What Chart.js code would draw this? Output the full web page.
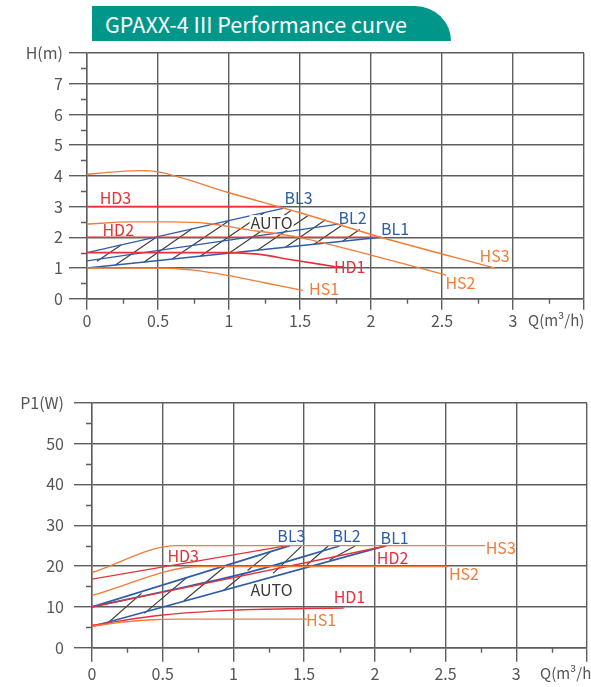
<!DOCTYPE html>
<html>
<head>
<meta charset="utf-8">
<script src="https://cdn.jsdelivr.net/npm/chart.js@4.4.0/dist/chart.umd.min.js"></script>
<style>
  body { margin: 0; width: 591px; height: 687px; background: #fff; position: relative; overflow: hidden; font-family: "Noto Sans CJK SC", sans-serif; }
  .title { position: absolute; left: 92px; top: 6px; width: 359px; height: 35px; background: #00978a; border-top-right-radius: 36px 35px;
           color: #fff; font-size: 21.5px; line-height: 35px; box-sizing: border-box; padding-left: 13px; }
  canvas { position: absolute; left: 0; }
  #head { top: 0; }
  #power { top: 350px; }
</style>
</head>
<body>
<div class="title">GPAXX-4 III Performance curve</div>
<canvas id="head" width="591" height="340"></canvas>
<canvas id="power" width="591" height="337"></canvas>
<script>
const FONT = '"Noto Sans CJK SC", "Noto Sans", sans-serif';
const ORANGE = '#f27c38', RED = '#e8303b', BLUE = '#2d5ca8', HATCH = '#404040', GRID = '#5e5e5e', TEXT = '#555';

// ---- H(m) / Q curves
const headHS3q = [0, 0.2, 0.38, 0.5, 1.0, 1.5, 2.07, 2.87];
const headHS3h = [4.05, 4.13, 4.17, 4.13, 3.45, 2.8, 2.0, 1.0];
const headHS2q = [0, 0.3, 0.6, 0.85, 1.1, 1.5, 2.0, 2.53];
const headHS2h = [2.43, 2.5, 2.5, 2.45, 2.27, 1.99, 1.42, 0.77];
const headHS1q = [0, 0.5, 0.75, 1.0, 1.25, 1.52];
const headHS1h = [1.0, 1.0, 0.93, 0.75, 0.52, 0.27];
const headHD3q = [0, 1.37];
const headHD3h = [3, 3];
const headHD2q = [0, 2.07];
const headHD2h = [2, 2];
const headHD1q = [0, 1.0, 1.2, 1.44, 1.75];
const headHD1h = [1.5, 1.5, 1.45, 1.27, 1.04];
const headBL3q = [0, 1.38];
const headBL3h = [1.5, 2.94];
const headBL2q = [0, 1.77];
const headBL2h = [1.23, 2.43];
const headBL1q = [0, 2.07];
const headBL1h = [1.0, 2.0];
// AUTO hatch segments (start q,h -> end q,h)
const headAutoQ1 = [0.07, 0.2, 0.4, 0.6, 0.8, 1.0, 1.2, 1.4, 1.6, 1.8];
const headAutoH1 = [1.22, 1.1, 1.19, 1.29, 1.39, 1.48, 1.58, 1.68, 1.77, 1.87];
const headAutoQ2 = [0.24, 0.49, 0.74, 1.0, 1.25, 1.44, 1.56, 1.68, 1.8, 1.92];
const headAutoH2 = [1.75, 2.01, 2.28, 2.54, 2.81, 2.88, 2.72, 2.57, 2.41, 2.25];
const headTicks = [0, 1, 2, 3, 4, 5, 6, 7, 8];

// ---- P1(W) / Q curves
const powHS3q = [0, 0.6, 2.78];
const powHS3p = [18.4, 25, 25];
const powHS2q = [0, 0.77, 2.52];
const powHS2p = [12.8, 19.9, 19.9];
const powHS1q = [0, 0.2, 0.4, 0.6, 1.52];
const powHS1p = [5.2, 6.2, 6.8, 7.0, 7.0];
const powHD3q = [0, 1.38];
const powHD3p = [16.8, 25];
const powHD2q = [0, 2.08];
const powHD2p = [10, 24.9];
const powHD1q = [0, 0.5, 1.0, 1.5, 1.78];
const powHD1p = [5.5, 8.0, 9.2, 9.6, 9.7];
const powBL3q = [0, 1.4];
const powBL3p = [10, 25];
const powBL2q = [0, 0.5, 1.08, 1.75];
const powBL2p = [10, 13.7, 18.2, 24.9];
const powBL1q = [0, 2.08];
const powBL1p = [5.2, 25];
const powAutoQ1 = [0.1, 0.37, 0.65, 0.93, 1.1, 1.28, 1.52, 1.68];
const powAutoP1 = [5.7, 8.4, 11.5, 14.0, 18.9, 18.2, 20.3, 21.5];
const powAutoQ2 = [0.35, 0.67, 0.94, 1.08, 1.26, 1.48, 1.67, 1.86];
const powAutoP2 = [13.3, 17.2, 19.9, 18.3, 23.4, 24.8, 24.9, 24.9];
const powTicks = [0, 10, 20, 30, 40, 50, 60];

// ---- labels [text, q, value, colour]
const headLabels = [
  ['HD3', 0.2, 3.27, RED], ['HD2', 0.22, 2.24, RED], ['BL3', 1.49, 3.27, BLUE], ['AUTO', 1.3, 2.46, '#3a3a3a'],
  ['BL2', 1.87, 2.62, BLUE], ['BL1', 2.17, 2.26, BLUE], ['HS3', 2.87, 1.39, ORANGE], ['HD1', 1.85, 1.02, RED],
  ['HS2', 2.63, 0.5, ORANGE], ['HS1', 1.67, 0.31, ORANGE]
];
const powLabels = [
  ['HD3', 0.645, 22.5, RED], ['BL3', 1.41, 27.4, BLUE], ['BL2', 1.8, 27.4, BLUE], ['BL1', 2.14, 26.9, BLUE],
  ['HD2', 2.125, 21.9, RED], ['HS3', 2.89, 24.5, ORANGE], ['HS2', 2.63, 18.1, ORANGE], ['AUTO', 1.27, 14.1, '#3a3a3a'],
  ['HD1', 1.82, 12.5, RED], ['HS1', 1.62, 6.8, ORANGE]
];

function pts(qs, vs) {
  return qs.map((q, i) => ({x: q, y: vs[i]}));
}
function segs(q1, v1, q2, v2) {
  let out = [];
  q1.forEach((q, i) => {
    out.push({x: q, y: v1[i]}, {x: q2[i], y: v2[i]}, {x: q2[i], y: null});
  });
  return out;
}
function line(data, color, width) {
  return {data: data, borderColor: color, borderWidth: width || 1.4, pointRadius: 0, fill: false,
          cubicInterpolationMode: 'monotone', spanGaps: false};
}

const extras = {
  id: 'extras',
  afterDatasetsDraw(chart, args, opts) {
    const {ctx} = chart;
    const x = chart.scales.x, y = chart.scales.y;
    ctx.save();
    ctx.font = '16px ' + FONT;
    ctx.textAlign = 'center';
    ctx.textBaseline = 'middle';
    opts.labels.forEach(l => {
      const px = x.getPixelForValue(l[1]), py = y.getPixelForValue(l[2]);
      if (l[0] == 'AUTO' && opts.autoBg) {
        const w = ctx.measureText(l[0]).width;
        ctx.fillStyle = '#fff';
        ctx.fillRect(px - w / 2 - 1, py - 8, w + 2, 15);
      }
      ctx.fillStyle = l[3];
      ctx.fillText(l[0], px, py);
    });
    // minor ticks
    ctx.strokeStyle = GRID;
    ctx.lineWidth = 1.4;
    ctx.beginPath();
    for (let v = opts.yMinor; v < y.max; v += opts.yMinor * 2) {
      const py = Math.round(y.getPixelForValue(v)) + 0.5;
      ctx.moveTo(x.left - 6, py);
      ctx.lineTo(x.left, py);
    }
    for (let v = 0.25; v < x.max; v += 0.5) {
      const px = Math.round(x.getPixelForValue(v)) + 0.5;
      ctx.moveTo(px, y.bottom);
      ctx.lineTo(px, y.bottom + 5);
    }
    ctx.stroke();
    // axis name Q
    ctx.fillStyle = TEXT;
    ctx.textAlign = 'left';
    ctx.textBaseline = 'top';
    ctx.font = '15px ' + FONT;
    ctx.fillText('Q(m³/h)', opts.qX, y.bottom + opts.xTick + opts.xPad + 1);
    ctx.restore();
  }
};

function options(o) {
  return {
    responsive: false,
    animation: false,
    layout: {padding: {top: o.top, right: o.right, left: 0, bottom: 0}},
    plugins: {
      legend: {display: false},
      tooltip: {enabled: false},
      extras: {labels: o.labels, yMinor: o.yMinor, autoBg: o.autoBg, xTick: o.xTick, xPad: o.xPad, qX: o.qX}
    },
    scales: {
      x: {
        type: 'linear', min: 0, max: 3.5,
        afterFit: s => { s.height = o.xH; },
        ticks: {stepSize: 0.5, padding: o.xPad, color: TEXT, font: {family: FONT, size: 16},
                maxRotation: 0, autoSkip: false, callback: v => v == 3.5 ? '' : v},
        grid: {color: GRID, lineWidth: 1.4, tickLength: o.xTick},
        border: {color: GRID, width: 1.4}
      },
      y: {
        min: 0, max: o.yMax,
        afterFit: s => { s.width = o.left; },
        afterBuildTicks: s => { s.ticks = o.ticks.map(v => ({value: v})); },
        ticks: {padding: o.yPad, color: TEXT, font: {family: FONT, size: 16},
                callback: v => v == o.yMax ? o.yName : v},
        grid: {color: GRID, lineWidth: 1.4, tickLength: 18},
        border: {color: GRID, width: 1.4}
      }
    }
  };
}

new Chart(document.getElementById('head'), {
  type: 'line',
  data: {
    datasets: [
      line(pts(headHS3q, headHS3h), ORANGE),
      line(pts(headHS2q, headHS2h), ORANGE),
      line(pts(headHS1q, headHS1h), ORANGE),
      line(pts(headHD3q, headHD3h), RED, 1.6),
      line(pts(headHD2q, headHD2h), RED, 1.6),
      line(pts(headHD1q, headHD1h), RED, 1.6),
      line(pts(headBL3q, headBL3h), BLUE),
      line(pts(headBL2q, headBL2h), BLUE),
      line(pts(headBL1q, headBL1h), BLUE),
      Object.assign(line(segs(headAutoQ1, headAutoH1, headAutoQ2, headAutoH2), HATCH, 1.2), {cubicInterpolationMode: 'default', tension: 0})
    ]
  },
  options: options({top: 53, right: 7, left: 87, xH: 41.3, yMax: 8, ticks: headTicks, yName: 'H(m)',
                    yPad: 6, xTick: 11, xPad: 2, yMinor: 0.5, labels: headLabels, autoBg: true, qX: 528}),
  plugins: [extras]
});

new Chart(document.getElementById('power'), {
  type: 'line',
  data: {
    datasets: [
      line(pts(powHS3q, powHS3p), ORANGE),
      line(pts(powHS2q, powHS2p), ORANGE),
      line(pts(powHS1q, powHS1p), ORANGE),
      line(pts(powHD3q, powHD3p), RED),
      line(pts(powHD2q, powHD2p), RED),
      line(pts(powHD1q, powHD1p), RED),
      line(pts(powBL3q, powBL3p), BLUE, 1.6),
      line(pts(powBL2q, powBL2p), BLUE, 1.6),
      line(pts(powBL1q, powBL1p), BLUE, 1.6),
      Object.assign(line(segs(powAutoQ1, powAutoP1, powAutoQ2, powAutoP2), HATCH, 1.2), {cubicInterpolationMode: 'default', tension: 0})
    ]
  },
  options: options({top: 52.7, right: 4, left: 92, xH: 39.3, yMax: 60, ticks: powTicks, yName: 'P1(W)',
                    yPad: 10, xTick: 14, xPad: 3, yMinor: 5, labels: powLabels, autoBg: false, qX: 540}),
  plugins: [extras]
});
</script>
</body>
</html>
